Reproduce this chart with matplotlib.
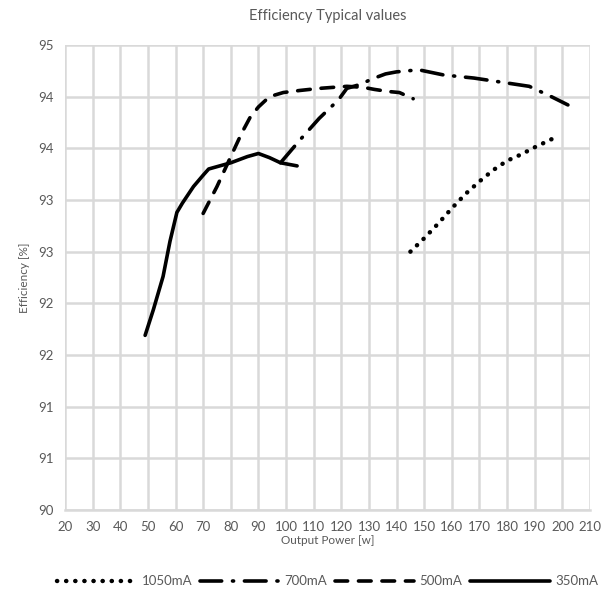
import math
import matplotlib
matplotlib.use("Agg")
import matplotlib.pyplot as plt
from matplotlib.ticker import FuncFormatter

plt.rcParams['font.family'] = ['Lato', 'DejaVu Sans']

# data
x_1050 = [145, 150, 155, 160, 165, 170, 175, 180, 185, 190, 197]
y_1050 = [92.5, 92.63, 92.77, 92.92, 93.06, 93.18, 93.29, 93.38, 93.44, 93.51, 93.6]

x_700 = [98, 105, 112, 119, 122, 127, 131, 136, 140, 148, 157, 168, 178, 188, 196, 202]
y_700 = [93.36, 93.58, 93.79, 93.97, 94.08, 94.12, 94.17, 94.22, 94.24, 94.26, 94.21, 94.18, 94.14, 94.1, 94.0, 93.92]

x_500 = [70, 75, 80, 84, 87, 90, 94, 99, 105, 112, 117, 122, 128, 132, 137, 141, 146]
y_500 = [92.87, 93.13, 93.42, 93.65, 93.8, 93.9, 94.0, 94.04, 94.06, 94.08, 94.09, 94.1, 94.09, 94.07, 94.05, 94.04, 93.98]

x_350 = [49, 52, 55.5, 58, 60.5, 62.5, 66.5, 70, 72, 76, 80, 86, 90, 94, 98, 104]
y_350 = [91.69, 91.94, 92.26, 92.6, 92.88, 92.97, 93.13, 93.24, 93.3, 93.33, 93.36, 93.42, 93.45, 93.41, 93.36, 93.33]

x_ticks = list(range(20, 211, 10))
y_ticks = [90 + 0.5 * i for i in range(10)]

grey = '#595959'
grid = '#d9d9d9'

fig = plt.figure(figsize=(6.13, 5.92), dpi=100)
ax = fig.add_axes([0.106, 0.1385, 0.8565, 0.7855])

lw = 2.6
ax.plot(x_1050, y_1050, color='black', lw=lw + 0.6, linestyle=(0, (0.05, 2.0)),
        dash_capstyle='round', label='1050mA')
ax.plot(x_700, y_700, color='black', lw=lw, linestyle=(0, (6, 3, 0.3, 3)),
        solid_capstyle='round', dash_capstyle='round', label='700mA')
ax.plot(x_500, y_500, color='black', lw=lw, linestyle=(0, (3.5, 3)),
        dash_capstyle='round', label='500mA')
ax.plot(x_350, y_350, color='black', lw=lw, solid_capstyle='round', label='350mA')

ax.set_xlim(20, 210)
ax.set_ylim(90, 94.5)
ax.set_xticks(x_ticks)
ax.set_yticks(y_ticks)
ax.yaxis.set_major_formatter(FuncFormatter(lambda v, p: str(int(math.floor(v + 0.5)))))
ax.grid(True, color=grid, lw=1.8)
ax.set_axisbelow(True)
for s in ax.spines.values():
    s.set_visible(False)
ax.spines['bottom'].set_visible(True)
ax.spines['bottom'].set_color(grid)
ax.spines['bottom'].set_linewidth(1.8)
ax.tick_params(length=0, colors=grey, labelsize=9.5, pad=8)

ax.set_title('Efficiency Typical values', color=grey, fontsize=10.5, pad=18)
ax.set_xlabel('Output Power [w]', color=grey, fontsize=8.5, labelpad=1)
ax.set_ylabel('Efficiency [%]', color=grey, fontsize=8.5, labelpad=6)

ax.legend(loc='upper center', bbox_to_anchor=(0.5, -0.115), ncol=4, frameon=False,
          handlelength=6, fontsize=9.5, labelcolor=grey, columnspacing=0.6, handletextpad=0.4)

fig.savefig('out.png', dpi=100)
